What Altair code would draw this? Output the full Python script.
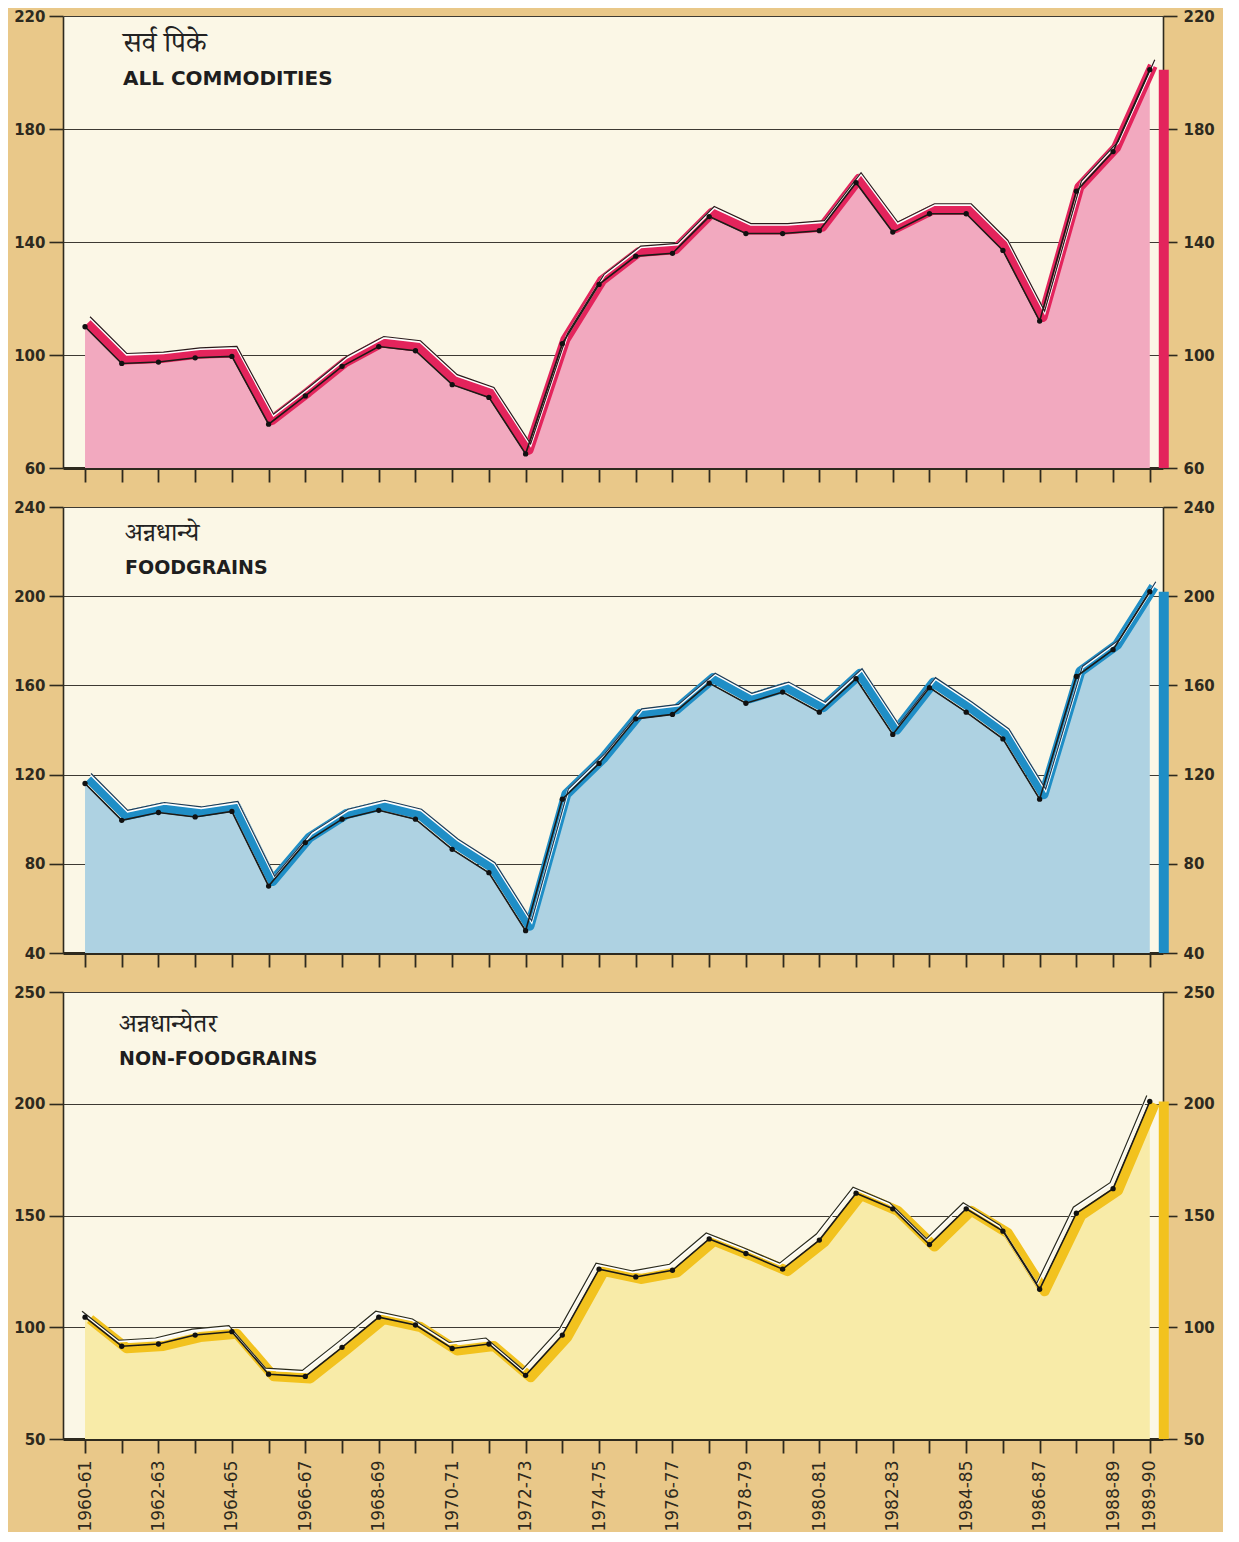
import altair as alt
import pandas as pd

years = ["1960-61", "1961-62", "1962-63", "1963-64", "1964-65", "1965-66", "1966-67",
         "1967-68", "1968-69", "1969-70", "1970-71", "1971-72", "1972-73", "1973-74",
         "1974-75", "1975-76", "1976-77", "1977-78", "1978-79", "1979-80", "1980-81",
         "1981-82", "1982-83", "1983-84", "1984-85", "1985-86", "1986-87", "1987-88",
         "1988-89", "1989-90"]
shown_labels = ["1960-61", "1962-63", "1964-65", "1966-67", "1968-69", "1970-71", "1972-73",
                "1974-75", "1976-77", "1978-79", "1980-81", "1982-83", "1984-85", "1986-87",
                "1988-89", "1989-90"]

all_commodities = [110, 97, 97.5, 99, 99.5, 75.5, 85.5, 96, 103, 101.5, 89.5, 85, 65, 104,
                   125, 135, 136, 149, 143, 143, 144, 161, 143.5, 150, 150, 137, 112, 158, 172, 201]
foodgrains = [116, 99.5, 103, 101, 103.5, 70, 89.5, 100, 104, 100, 86.5, 76, 50, 109,
              125, 145, 147, 161, 152, 157, 148, 163, 138, 159, 148, 136, 109, 164, 176, 202]
non_foodgrains = [104.5, 91.5, 92.5, 96.5, 98, 79, 78, 91, 104.5, 101, 90.5, 92.5, 78.5, 96.5,
                  126, 122.5, 125.5, 139.5, 133, 126, 139, 160, 153, 137, 153, 143, 117, 151, 162, 201]

ticks_all = [60, 100, 140, 180, 220]
ticks_food = [40, 80, 120, 160, 200, 240]
ticks_non = [50, 100, 150, 200, 250]

titles_hi = ["सर्व   पिके", "अन्नधान्ये", "अन्नधान्येतर"]
titles_en = ["ALL COMMODITIES", "FOODGRAINS", "NON-FOODGRAINS"]

label_arr = [y if y in shown_labels else "" for y in years]
label_expr = "[" + ",".join("'%s'" % s for s in label_arr) + "][datum.value]"

AX_COLOR = "#2e2a1e"
NUM_FONT = "DejaVu Sans"
TITLE_FONT = "DejaVu Sans"
DEV_FONT = "Noto Serif Devanagari, Noto Sans Devanagari, Lohit Devanagari, FreeSerif, serif"
W = 1100


def panel(values, ticks, colors, height, titles_i, show_labels, offs, tpos):
    area_c, band_c, edge_c = colors
    ymin, ymax = ticks[0], ticks[-1]
    df = pd.DataFrame({"i": list(range(len(years))), "v": values, "year": years})
    last = df.iloc[[-1]]
    xs = alt.Scale(domain=[-0.6, 29.36], nice=False, zero=False)
    ys = alt.Scale(domain=[ymin, ymax], nice=False, zero=False)
    x_axis = alt.Axis(values=list(range(len(years))), labelExpr=label_expr if show_labels else "''",
                      labels=show_labels, tickSize=14, tickWidth=1.8, tickColor=AX_COLOR,
                      domainColor=AX_COLOR, domainWidth=3, grid=False, title=None,
                      labelAngle=270, labelFontSize=17, labelFont=NUM_FONT, labelColor=AX_COLOR,
                      labelPadding=7, labelFontWeight="normal")
    y_left = alt.Axis(orient="left", values=ticks, grid=True, gridColor="#3d3a33", gridWidth=1,
                      tickSize=14, tickColor=AX_COLOR, tickWidth=1.6, domainColor=AX_COLOR,
                      domainWidth=1.6, labelFontSize=15, labelFont=NUM_FONT, labelColor=AX_COLOR,
                      labelFontWeight="bold", labelPadding=4, title=None, minExtent=55, maxExtent=55)
    y_right = alt.Axis(orient="right", values=ticks, grid=False, tickSize=14, tickColor=AX_COLOR,
                       tickWidth=1.6, domainColor=AX_COLOR, domainWidth=1.6, labelFontSize=15,
                       labelFont=NUM_FONT, labelColor=AX_COLOR, labelFontWeight="bold",
                       labelPadding=6, title=None, minExtent=60, maxExtent=60)

    X = alt.X("i:Q", scale=xs, axis=x_axis)
    base = alt.Chart(df)
    area = base.mark_area(color=area_c, opacity=1, line={"color": "#555", "strokeWidth": 1}).encode(
        x=X, y=alt.Y("v:Q", scale=ys, axis=y_left), y2=alt.datum(ymin))
    bxo, byo, txo, tyo = offs
    band = base.mark_line(color=band_c, strokeWidth=10, strokeJoin="round",
                          xOffset=bxo, yOffset=byo).encode(
        x=X, y=alt.Y("v:Q", scale=ys, axis=None))
    white = base.mark_line(color="white", strokeWidth=2.5, xOffset=txo, yOffset=tyo + 1).encode(
        x=X, y=alt.Y("v:Q", scale=ys, axis=None))
    edge = base.mark_line(color=edge_c, strokeWidth=1.2, xOffset=txo, yOffset=tyo).encode(
        x=X, y=alt.Y("v:Q", scale=ys, axis=None))
    line = base.mark_line(color="#1c1a16", strokeWidth=1.6).encode(
        x=X, y=alt.Y("v:Q", scale=ys, axis=None))
    pts = base.mark_point(filled=True, color="#111", size=28, opacity=1).encode(
        x=X, y=alt.Y("v:Q", scale=ys, axis=y_right))
    side = alt.Chart(last).mark_rule(color=band_c, strokeWidth=10, xOffset=14, strokeCap="butt").encode(
        x=X, y=alt.Y("v:Q", scale=ys, axis=None), y2=alt.datum(ymin))
    tx, thy, tey, hs, es = tpos
    tdf = pd.DataFrame({"hi": [titles_hi[titles_i]], "en": [titles_en[titles_i]]})
    t_hi = alt.Chart(tdf).mark_text(align="left", baseline="middle", fontSize=hs, font=DEV_FONT,
                                    color="#222").encode(
        text="hi:N", x=alt.value(tx), y=alt.value(thy))
    t_en = alt.Chart(tdf).mark_text(align="left", baseline="middle", fontSize=es, font=TITLE_FONT,
                                    fontWeight="bold", color="#1e1e1e").encode(
        text="en:N", x=alt.value(tx), y=alt.value(tey))
    return alt.layer(area, side, band, white, edge, line, pts, t_hi, t_en).resolve_axis(
        y="independent").properties(width=W, height=height)


p1 = panel(all_commodities, ticks_all, ("#f2a9bf", "#e3245c", "#2a1a1a"), 452, 0, False,
           (3, -4, 5, -10), (60, 27, 63, 29, 20))
p2 = panel(foodgrains, ticks_food, ("#aed2e2", "#1f8ec6", "#1b3a55"), 446, 1, False,
           (4, -5, 6, -10), (62, 26, 61, 26, 19))
p3 = panel(non_foodgrains, ticks_non, ("#f8eba8", "#f2c21e", "#2a2a1a"), 447, 2, True,
           (5, 2, -3, -6), (56, 32, 67, 26, 19))

chart = alt.vconcat(p1, p2, p3, spacing=17).properties(
    padding={"left": 0, "top": 1, "right": 0, "bottom": 0}
).configure(background="#e9c889").configure_view(fill="#fbf7e6", stroke=None)

chart.save("out.html", embed_options={"renderer": "svg", "actions": False})
